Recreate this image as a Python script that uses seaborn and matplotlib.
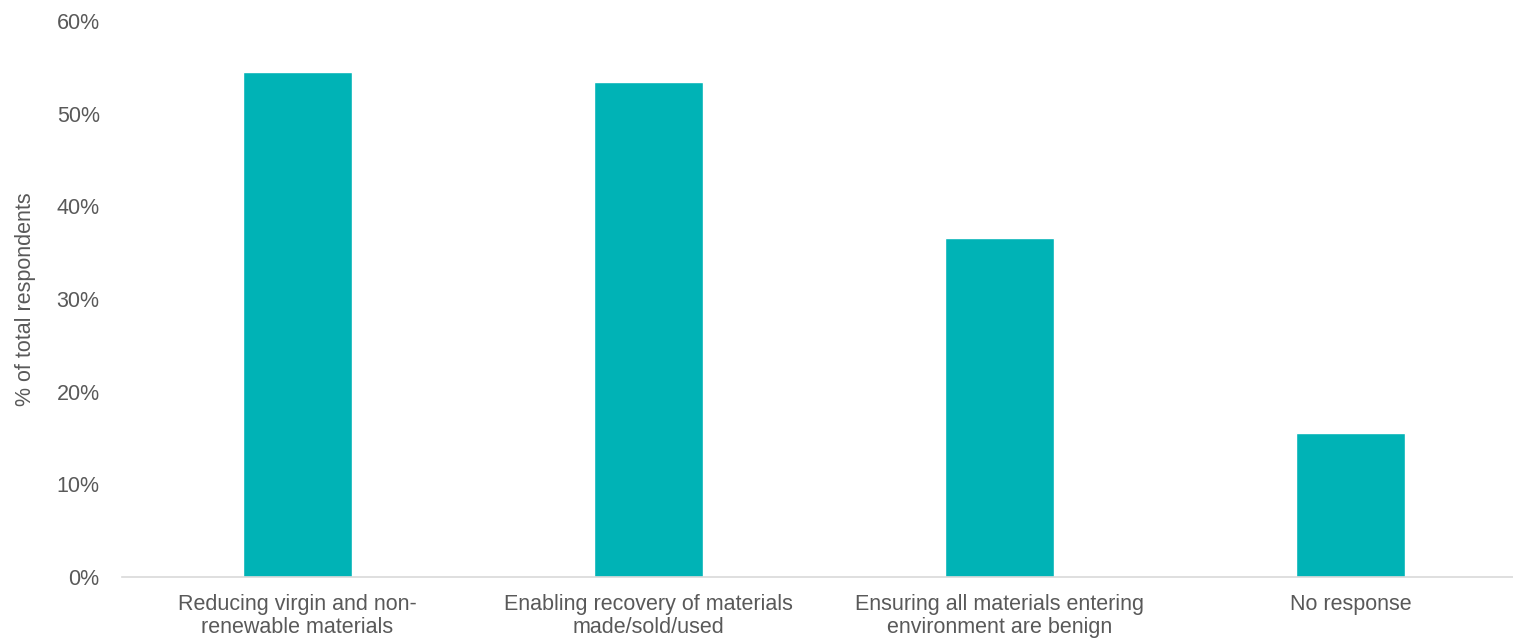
import matplotlib
matplotlib.use("Agg")
import matplotlib.pyplot as plt
import seaborn as sns
import pandas as pd
from matplotlib.ticker import PercentFormatter

categories = [
    "Reducing virgin and non-\nrenewable materials",
    "Enabling recovery of materials\nmade/sold/used",
    "Ensuring all materials entering\nenvironment are benign",
    "No response",
]
values = [0.545, 0.534, 0.366, 0.155]
y_ticks = [0, 0.1, 0.2, 0.3, 0.4, 0.5, 0.6]

sns.set_theme(style="white")
plt.rcParams['font.family'] = ['Liberation Sans', 'DejaVu Sans']

df = pd.DataFrame({"cat": categories, "val": values})

fig = plt.figure(figsize=(15.13, 6.41), dpi=100)
ax = fig.add_axes([0.0806, 0.0998, 0.928, 0.8672])
sns.barplot(data=df, x="cat", y="val", color="#00B3B6", width=0.313, saturation=1, ax=ax)

ax.set_ylim(0, 0.6)
ax.set_yticks(y_ticks)
ax.yaxis.set_major_formatter(PercentFormatter(1.0, decimals=0))
ax.set_xlabel("")
ax.set_ylabel("% of total respondents", fontsize=15.5, color="#595959", labelpad=15)
ax.tick_params(axis="y", length=0, pad=16, labelsize=15.5, labelcolor="#595959")
ax.tick_params(axis="x", length=0, pad=12, labelsize=15.5, labelcolor="#595959")
for lab in ax.get_xticklabels():
    lab.set_linespacing(1.15)
for s in ["top", "right", "left"]:
    ax.spines[s].set_visible(False)
ax.spines["bottom"].set_color("#D9D9D9")
ax.spines["bottom"].set_linewidth(1.2)

fig.savefig("out.png", dpi=100)
